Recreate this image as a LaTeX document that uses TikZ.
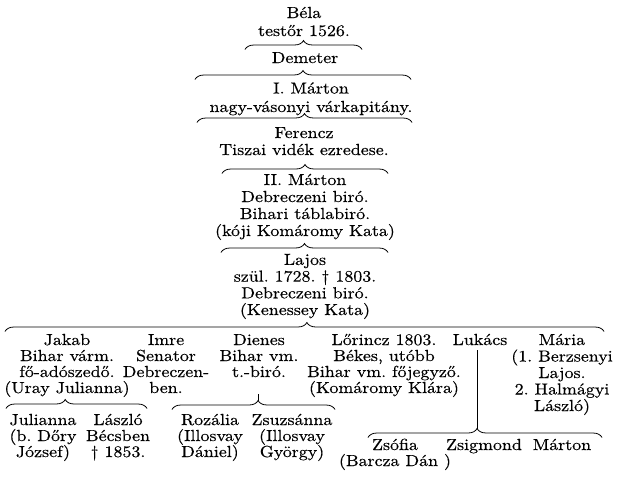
\documentclass[tikz,border=0pt]{standalone}
\usepackage{fontspec}
\setmainfont{lmroman10-regular.otf}[FakeStretch=1.12, FakeBold=0.4]
\usetikzlibrary{decorations.pathreplacing}
\frenchspacing
\begin{document}
\begin{tikzpicture}[x=1pt,y=-1pt,
  person/.style={align=center, inner sep=0pt, anchor=base, font=\fontsize{16}{#1}\selectfont},
  person/.default=16.3,
  bracket/.style={decorate, decoration={brace, amplitude=9pt, aspect=#1}, line width=0.8pt},
  bracket/.default=0.5,
  stem/.style={line width=0.8pt}]
\useasboundingbox (0,0) rectangle (619,477);

% persons (positions are baselines of the last line)
\node[person=18] (bela) at (304,36) {Béla\\testőr 1526.};
\node[person] (demeter) at (305,63) {Demeter};
\node[person=18.5] (marton1) at (311,112) {I. Márton\\nagy-vásonyi várkapitány.};
\node[person=17] (ferencz) at (304,155) {Ferencz\\Tiszai vidék ezredese.};
\node[person=17] (marton2) at (305,236) {II. Márton\\Debreczeni biró.\\Bihari táblabiró.\\(kóji Komáromy Kata)};
\node[person=16.7] (lajos) at (305,315) {Lajos\\szül. 1728. † 1803.\\Debreczeni biró.\\(Kenessey Kata)};

\node[person=16] (jakab) at (67,393) {Jakab\\Bihar várm.\\fő-adószedő.\\(Uray Julianna)};
\node[person=16] (imre) at (166,393) {Imre\\Senator\\Debreczen-\\ben.};
\node[person=16] (dienes) at (259,377) {Dienes\\Bihar vm.\\t.-biró.};
\node[person=16] (lorincz) at (384,393) {Lőrincz 1803.\\Békes, utóbb\\Bihar vm. főjegyző.\\(Komáromy Klára)};
\node[person] (lukacs) at (480,345) {Lukács};
\node[person=16.5] (maria) at (562,411) {Mária\\(1. Berzsenyi\\Lajos.\\2. Halmágyi\\László)};

\node[person=16] (julianna) at (43,457) {Julianna\\(b. Dőry\\József)};
\node[person=16] (laszlo) at (118,457) {László\\Bécsben\\† 1853.};
\node[person=16] (rozalia) at (210,457) {Rozália\\(Illosvay\\Dániel)};
\node[person=16] (zsuzsanna) at (292,457) {Zsuzsánna\\(Illosvay\\György)};

\node[person=16] (zsofia) at (395,466) {Zsófia\\(Barcza Dán )};
\node[person] (zsigmond) at (484,450) {Zsigmond};
\node[person] (marton3) at (562,450) {Márton};

% bracket end points (line y + 4.5)
\coordinate (A1) at (245,49.5);  \coordinate (A2) at (362,49.5);
\coordinate (B1) at (195,79.5);  \coordinate (B2) at (411,79.5);
\coordinate (C1) at (197,122.5); \coordinate (C2) at (412,122.5);
\coordinate (D1) at (222,173.5); \coordinate (D2) at (388,173.5);
\coordinate (E1) at (221,252.5); \coordinate (E2) at (388,252.5);
\coordinate (F1) at (5,331.5);   \coordinate (F2) at (604,331.5);
\coordinate (G1) at (6,408.5);   \coordinate (G2) at (147,408.5);
\coordinate (H1) at (172,409.5); \coordinate (H2) at (335,409.5);
\coordinate (I1) at (368,437.5); \coordinate (I2) at (602,437.5);
\coordinate (Htip) at (258,400.5);
\coordinate (Itip) at (477,428.5);
\coordinate (dstem) at (258,394);

% brackets
\draw[bracket] (A1) -- (A2);
\draw[bracket] (B1) -- (B2);
\draw[bracket] (C1) -- (C2);
\draw[bracket] (D1) -- (D2);
\draw[bracket] (E1) -- (E2);
\draw[bracket=0.504] (F1) -- (F2);
\draw[bracket=0.42] (G1) -- (G2);
\draw[bracket=0.528] (H1) -- (H2);
\draw[bracket=0.466] (I1) -- (I2);

% stems
\draw[stem] (dstem) -- (Htip);
\draw[stem] ([yshift=-5pt]lukacs.south -| Itip) -- (Itip);
\end{tikzpicture}
\end{document}
